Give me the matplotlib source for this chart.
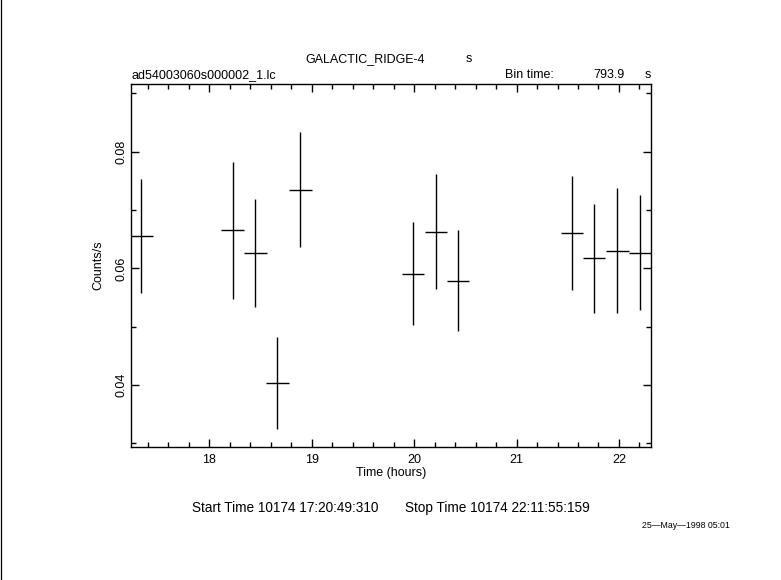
import matplotlib
matplotlib.use("Agg")
import matplotlib.pyplot as plt
from matplotlib.ticker import MultipleLocator
from matplotlib.lines import Line2D

plt.rcParams['font.family'] = ['Liberation Sans', 'DejaVu Sans']

# Data (time in hours, rate in counts/s)
time_h = [17.336, 18.228, 18.449, 18.664, 18.889, 19.990, 20.215, 20.430,
          21.543, 21.758, 21.983, 22.208]
rate = [0.0655, 0.0665, 0.0626, 0.0404, 0.0735, 0.0591, 0.0663, 0.0579,
        0.0661, 0.0617, 0.0630, 0.0627]
rate_err = [0.0098, 0.0117, 0.0093, 0.0079, 0.0099, 0.0088, 0.0098, 0.0086,
            0.0098, 0.0094, 0.0107, 0.0098]
bin_time_s = 793.9
half_bin_h = bin_time_s / 3600.0 / 2.0

x_ticks = [18, 19, 20, 21, 22]
y_ticks = [0.04, 0.06, 0.08]

W, H = 781, 580
fig = plt.figure(figsize=(W / 100, H / 100), dpi=100)
ax = fig.add_axes([130.7 / W, 1 - 446.7 / H, (650.7 - 130.7) / W, (446.7 - 84) / H])

ax.errorbar(time_h, rate, yerr=rate_err, xerr=half_bin_h, fmt='none',
            ecolor='black', elinewidth=1.0, capsize=0)

ax.set_xlim(17.232, 22.31)
ax.set_ylim(0.02942, 0.0916)
ax.set_xticks(x_ticks)
ax.set_xticklabels([str(t) for t in x_ticks])
ax.xaxis.set_minor_locator(MultipleLocator(0.2))
ax.set_yticks(y_ticks)
ax.set_yticklabels([f"{t:.2f}" for t in y_ticks], rotation=90, va='center')
ax.yaxis.set_minor_locator(MultipleLocator(0.01))

ax.tick_params(which='both', direction='in', top=True, right=True, width=1,
               labelsize=9, colors='black')
ax.tick_params(axis='x', which='major', length=6, pad=5)
ax.tick_params(axis='y', which='major', length=6, pad=2)
ax.tick_params(which='minor', length=3.5)
for s in ax.spines.values():
    s.set_linewidth(1.0)

ax.set_xlabel("Time (hours)", fontsize=9, labelpad=1)
ax.set_ylabel("Counts/s", fontsize=9, labelpad=8)

fig.text(365 / W, 1 - 59 / H, "GALACTIC_RIDGE-4", ha='center', va='center', fontsize=9)
fig.text(469 / W, 1 - 59 / H, "s", ha='center', va='center', fontsize=9)
fig.text(131 / W, 1 - 75 / H, "ad54003060s000002_1.lc", ha='left', va='center', fontsize=9)
fig.text(505 / W, 1 - 75 / H, "Bin time:", ha='left', va='center', fontsize=9)
fig.text(625 / W, 1 - 75 / H, f"{bin_time_s:.1f}", ha='right', va='center', fontsize=9)
fig.text(648 / W, 1 - 75 / H, "s", ha='center', va='center', fontsize=9)
fig.text(192 / W, 1 - 508 / H, "Start Time 10174 17:20:49:310",
         ha='left', va='center', fontsize=9.8)
fig.text(405 / W, 1 - 508 / H, "Stop Time 10174 22:11:55:159",
         ha='left', va='center', fontsize=9.8)
fig.text(686 / W, 1 - 525 / H, "25\u2014May\u20141998 05:01", ha='center', va='center',
         fontsize=6.3)

fig.add_artist(Line2D([0.5 / W, 0.5 / W], [0, 1], color='black', linewidth=0.9,
                      transform=fig.transFigure))

fig.savefig("out.png", dpi=100, facecolor='white')
